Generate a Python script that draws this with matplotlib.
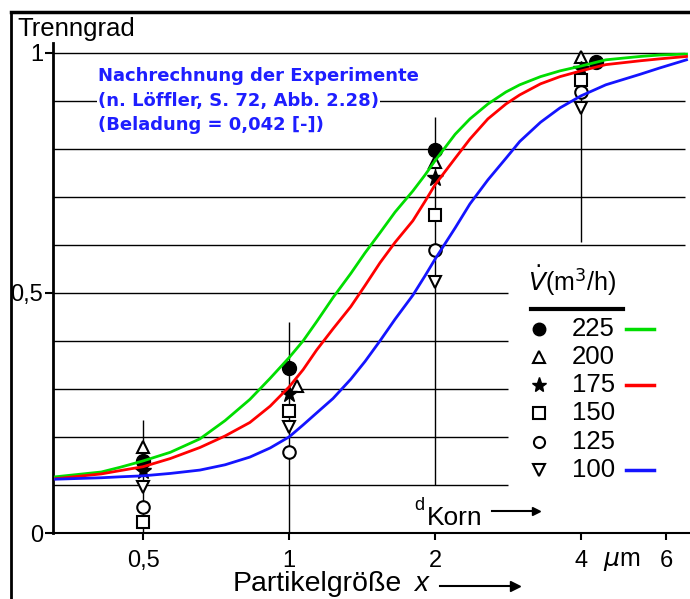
import matplotlib
matplotlib.use('Agg')
import matplotlib.pyplot as plt
from matplotlib.lines import Line2D

plt.rcParams['font.family'] = ['Liberation Sans', 'DejaVu Sans']
plt.rcParams['mathtext.fontset'] = 'dejavusans'

# simulated curves
curve_x = [0.33, 0.41, 0.449, 0.5, 0.569, 0.655, 0.738, 0.83, 0.914, 1.0, 1.069, 1.14,
           1.232, 1.34, 1.434, 1.54, 1.654, 1.8, 1.906, 2.0, 2.2, 2.36, 2.57, 2.8,
           2.99, 3.3, 3.62, 4.0, 4.5, 5.3, 5.81, 6.6]
green_y = [0.117, 0.127, 0.137, 0.150, 0.168, 0.196, 0.234, 0.278, 0.322, 0.365, 0.40, 0.44,
           0.49, 0.54, 0.583, 0.625, 0.668, 0.712, 0.745, 0.775, 0.83, 0.862, 0.893, 0.918,
           0.933, 0.95, 0.962, 0.972, 0.985, 0.992, 0.995, 0.997]
red_y = [0.113, 0.123, 0.13, 0.138, 0.155, 0.178, 0.202, 0.23, 0.264, 0.304, 0.34, 0.381,
         0.425, 0.471, 0.515, 0.5625, 0.605, 0.65, 0.69, 0.725, 0.78, 0.82, 0.862, 0.893,
         0.912, 0.935, 0.95, 0.962, 0.975, 0.983, 0.987, 0.992]
blue_y = [0.112, 0.115, 0.117, 0.119, 0.124, 0.131, 0.142, 0.158, 0.177, 0.200, 0.225, 0.25,
          0.28, 0.32, 0.357, 0.40, 0.445, 0.495, 0.535, 0.57, 0.635, 0.685, 0.735, 0.78,
          0.815, 0.855, 0.885, 0.91, 0.933, 0.955, 0.968, 0.985]

# measured points per volume flow (m3/h)
flows = ['225', '200', '175', '150', '125', '100']
meas_x = {
    '225': [0.5, 1.0, 2.0, 4.3],
    '200': [0.5, 1.04, 2.0, 4.0],
    '175': [0.5, 1.0, 2.0, 4.0],
    '150': [0.5, 1.0, 2.0, 4.0],
    '125': [0.5, 1.0, 2.0, 4.0],
    '100': [0.5, 1.0, 2.0, 4.0],
}
meas_y = {
    '225': [0.15, 0.344, 0.798, 0.98],
    '200': [0.18, 0.305, 0.773, 0.99],
    '175': [0.13, 0.29, 0.74, 0.965],
    '150': [0.022, 0.254, 0.662, 0.944],
    '125': [0.055, 0.169, 0.59, 0.919],
    '100': [0.095, 0.22, 0.523, 0.885],
}

# scatter ranges of the measurements
range_x = [0.5, 1.0, 2.0, 4.0]
range_lo = [0.0, 0.0, 0.1, 0.605]
range_hi = [0.235, 0.44, 0.865, 1.0]

grid_levels = [0.1, 0.2, 0.3, 0.4, 0.5, 0.6, 0.7, 0.8, 0.9, 1.0]
grid_end = [2.83, 2.83, 2.83, 2.83, 2.83, 6.55, 6.55, 6.55, 6.55, 6.55]

x_ticks = [0.5, 1, 2, 4, 6]
x_labels = ['0,5', '1', '2', '4', '6']
y_ticks = [0, 0.5, 1]
y_labels = ['0', '0,5', '1']

markers = {
    '225': dict(marker='o', ms=10, mfc='k', mec='k'),
    '200': dict(marker='^', ms=9, mfc='white', mec='k', mew=1.5),
    '175': dict(marker='*', ms=12, mfc='k', mec='k'),
    '150': dict(marker='s', ms=9, mfc='white', mec='k', mew=1.5),
    '125': dict(marker='o', ms=9, mfc='white', mec='k', mew=1.5),
    '100': dict(marker='v', ms=9, mfc='white', mec='k', mew=1.5),
}
curve_colors = {'225': '#00dd00', '175': '#ff0000', '100': '#1414ff'}

W, H = 690, 599


def fx(px):
    return px / W


def fy(py):
    return 1 - py / H


fig = plt.figure(figsize=(6.9, 5.99), dpi=100)
ax = fig.add_axes([fx(53), fy(533), (690 - 53) / W, 490 / H])
ax.set_xscale('log')
ax.set_xlim(0.326, 6.71)
ax.set_ylim(0, 1.02)

ax.hlines(grid_levels, 0.326, grid_end, color='k', lw=1, zorder=1)
ax.vlines(range_x, range_lo, range_hi, color='k', lw=1, zorder=1)

for f in flows:
    ax.plot(meas_x[f], meas_y[f], ls='none', zorder=3, **markers[f])

ax.plot(curve_x, green_y, color=curve_colors['225'], lw=2, zorder=4)
ax.plot(curve_x, red_y, color=curve_colors['175'], lw=2, zorder=4)
ax.plot(curve_x, blue_y, color=curve_colors['100'], lw=2, zorder=4)

ax.spines['top'].set_visible(False)
ax.spines['right'].set_visible(False)
ax.spines['left'].set_linewidth(2)
ax.spines['bottom'].set_linewidth(1.5)
ax.set_xticks(x_ticks)
ax.set_xticklabels(x_labels)
ax.minorticks_off()
ax.set_yticks(y_ticks)
ax.set_yticklabels(y_labels)
ax.tick_params(axis='x', direction='out', length=5, width=1.5, pad=7, labelsize=17)
ax.tick_params(axis='y', direction='out', length=6, width=1.5, pad=1, labelsize=17)
ax.patch.set_visible(False)

# frame of the scanned figure
fig.add_artist(Line2D([fx(11), 1], [fy(12), fy(12)], color='k', lw=2.5))
fig.add_artist(Line2D([fx(11), fx(11)], [fy(12), 0], color='k', lw=2))

fig.text(fx(17), fy(29), 'Trenngrad', fontsize=18.5, va='center', ha='left')

blue = '#1e1eff'
fig.text(fx(98), fy(76), 'Nachrechnung der Experimente', color=blue,
         fontsize=13, fontweight='bold', family='DejaVu Sans', va='center')
fig.text(fx(98), fy(101), '(n. Löffler, S. 72, Abb. 2.28)', color=blue,
         fontsize=13, fontweight='bold', family='DejaVu Sans', va='center',
         bbox=dict(facecolor='white', edgecolor='none', pad=1))
fig.text(fx(98), fy(125), '(Beladung = 0,042 [-])', color=blue,
         fontsize=13, fontweight='bold', family='DejaVu Sans', va='center')

# axis captions
fig.text(fx(233), fy(584), 'Partikelgröße', fontsize=20.5, va='center', ha='left')
fig.text(fx(414), fy(584), 'x', fontsize=20, style='italic', va='center', ha='left')
fig.add_artist(Line2D([fx(440), fx(515)], [fy(586), fy(586)], color='k', lw=1.5))
fig.add_artist(Line2D([fx(515)], [fy(586)], marker='>', ms=7, color='k', mec='k'))
fig.text(fx(603), fy(561), r'$\mu$m', fontsize=18, va='center', ha='left')

fig.text(fx(414), fy(505), 'd', fontsize=13, va='center', ha='left')
fig.text(fx(427), fy(518), 'Korn', fontsize=19, va='center', ha='left')
fig.add_artist(Line2D([fx(492), fx(536)], [fy(511), fy(511)], color='k', lw=1.5))
fig.add_artist(Line2D([fx(536)], [fy(511)], marker='>', ms=6, color='k', mec='k'))

# legend
fig.text(fx(528), fy(281), r'$\dot{V}$(m$^3$/h)', fontsize=18, va='center', ha='left')
fig.add_artist(Line2D([fx(531), fx(623)], [fy(309), fy(309)], color='k', lw=3))
row_y = [329, 357, 385, 413, 442, 470]
for f, py in zip(flows, row_y):
    st = dict(markers[f])
    st['ms'] = st['ms'] - 1
    fig.add_artist(Line2D([fx(539)], [fy(py)], ls='none', **st))
    fig.text(fx(572), fy(py), f, fontsize=18.5, va='center', ha='left')
    if f in curve_colors:
        fig.add_artist(Line2D([fx(626), fx(654)], [fy(py), fy(py)],
                              color=curve_colors[f], lw=2.5))

fig.savefig('out.png', dpi=100)
